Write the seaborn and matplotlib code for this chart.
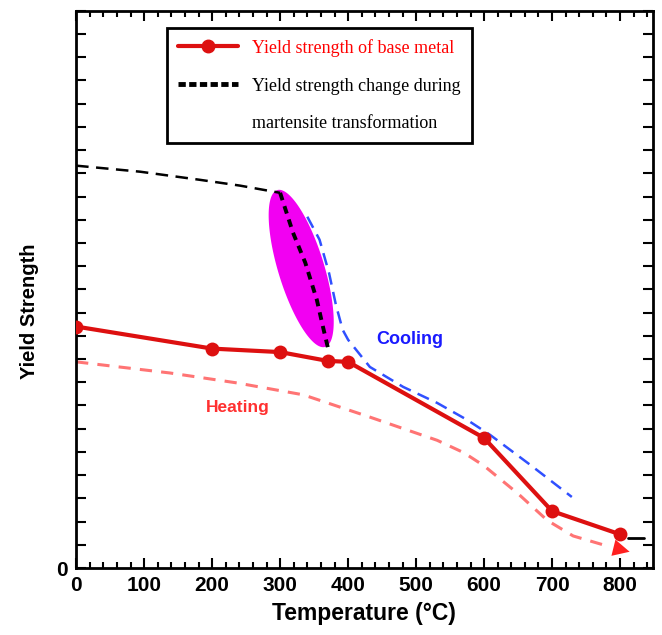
import numpy as np
import matplotlib
matplotlib.use('Agg')
import matplotlib.pyplot as plt
import seaborn as sns
from matplotlib.lines import Line2D
from matplotlib.ticker import MultipleLocator, FuncFormatter

# yield strength of base metal (arbitrary units, one unit per y tick)
temp_base = [0, 200, 300, 370, 400, 600, 700, 800]
ys_base = [10.4, 9.45, 9.3, 8.92, 8.88, 5.6, 2.45, 1.45]

# martensite transformation path (black dashed)
temp_mart_flat = [0, 94, 182, 241, 300]
ys_mart_flat = [17.33, 17.07, 16.72, 16.47, 16.16]
temp_mart_drop = [300, 319, 337, 354, 363, 371]
ys_mart_drop = [16.16, 14.44, 13.15, 11.55, 10.39, 9.4]
temp_mart_end = [812, 835]
ys_mart_end = [1.3, 1.3]

# cooling curve (blue dashed)
temp_cool = [340, 358, 372, 382, 392, 400, 432, 481, 531, 575, 609, 668, 729]
ys_cool = [15.13, 14.14, 12.7, 11.34, 10.26, 9.83, 8.66, 7.8, 7.11, 6.38, 5.73, 4.44, 3.06]

# heating curve (light red dashed)
temp_heat = [0, 138, 237, 334, 432, 531, 570, 600, 650, 693, 731, 775]
ys_heat = [8.88, 8.4, 7.97, 7.46, 6.5, 5.5, 4.97, 4.4, 3.2, 2.05, 1.38, 1.0]

# highlighted zone around the transformation
zone_center = (331, 12.9)   # data coords
zone_semi_axes = (82, 23)   # pixels
zone_tilt = 17              # degrees from vertical

RED = '#dd1010'
HEAT = '#ff5c5c'
BLUE = '#3050ff'
MAGENTA = '#f200f2'

sns.set_style('ticks')
plt.rcParams['font.family'] = ['Liberation Sans', 'DejaVu Sans']

fig, ax = plt.subplots(figsize=(6.62, 6.35), dpi=100)
fig.subplots_adjust(left=0.115, right=0.986, bottom=0.1055, top=0.983)
ax.set_xlim(0, 848)
ax.set_ylim(0, 24)

# magenta zone, built in display space then mapped back to data
fig.canvas.draw()
cx, cy = ax.transData.transform(zone_center)
phi = np.linspace(0, 2 * np.pi, 200)
a, b = zone_semi_axes
th = np.deg2rad(zone_tilt)
px = cx + (-a * np.cos(phi)) * np.sin(th) + b * np.sin(phi) * np.cos(th)
py = cy + a * np.cos(phi) * np.cos(th) + b * np.sin(phi) * np.sin(th)
pts = ax.transData.inverted().transform(np.column_stack([px, py]))
ax.fill(pts[:, 0], pts[:, 1], color=MAGENTA, lw=0, zorder=1)

sns.lineplot(x=temp_heat, y=ys_heat, ax=ax, color=HEAT, lw=2.2, sort=False,
             linestyle=(0, (4, 3)), alpha=0.85, zorder=2)
ax.annotate('', xy=(814, 0.7), xytext=(770, 1.02),
            arrowprops=dict(arrowstyle='-|>,head_length=1.2,head_width=0.6',
                            color='#ff2020', lw=0, shrinkA=0, shrinkB=0))

sns.lineplot(x=temp_cool, y=ys_cool, ax=ax, color=BLUE, lw=1.8, sort=False,
             linestyle=(0, (5, 3)), zorder=2)

sns.lineplot(x=temp_mart_flat, y=ys_mart_flat, ax=ax, color='black', lw=1.8,
             sort=False, linestyle=(0, (5, 3)), zorder=3)
sns.lineplot(x=temp_mart_drop, y=ys_mart_drop, ax=ax, color='black', lw=2.8,
             sort=False, linestyle=(0, (2, 1.6)), zorder=3)
sns.lineplot(x=temp_mart_end, y=ys_mart_end, ax=ax, color='black', lw=2,
             sort=False, zorder=3)

sns.lineplot(x=temp_base, y=ys_base, ax=ax, color=RED, lw=3, marker='o',
             markersize=10, markeredgewidth=0, sort=False, zorder=4)

ax.text(491, 9.83, 'Cooling', color='#1a1aff', fontsize=13, fontweight='bold',
        ha='center', va='center')
ax.text(238, 6.9, 'Heating', color='#ff3030', fontsize=12.5, fontweight='bold',
        ha='center', va='center')

# axes and ticks
for side in ['top', 'right', 'left', 'bottom']:
    ax.spines[side].set_visible(True)
    ax.spines[side].set_linewidth(2)
    ax.spines[side].set_color('black')
ax.xaxis.set_major_locator(MultipleLocator(100))
ax.xaxis.set_minor_locator(MultipleLocator(20))
ax.yaxis.set_major_locator(MultipleLocator(1))
ax.yaxis.set_major_formatter(FuncFormatter(lambda v, p: '0' if v == 0 else ''))
ax.tick_params(which='both', direction='in', top=True, right=True, width=1.5,
               color='black', labelcolor='black')
ax.tick_params(which='major', length=7, labelsize=15, pad=6)
ax.tick_params(which='minor', length=4)
for lab in ax.get_xticklabels() + ax.get_yticklabels():
    lab.set_fontweight('bold')
ax.set_xlabel('Temperature (°C)', fontsize=16.5, fontweight='bold', labelpad=5,
              color='black')
ax.set_ylabel('Yield Strength', fontsize=14.5, fontweight='bold', color='black')
ax.yaxis.set_label_coords(-0.064, 0.46)

# legend
handles = [
    Line2D([], [], color=RED, lw=3, marker='o', markersize=9),
    Line2D([], [], color='black', lw=3.5, linestyle=(0, (1.5, 0.7))),
    Line2D([], [], color='none'),
]
labels = ['Yield strength of base metal', 'Yield strength change during',
          'martensite transformation']
leg = ax.legend(handles, labels, loc='upper left', bbox_to_anchor=(0.158, 0.969),
                frameon=True, fancybox=False, handlelength=3.3, handletextpad=0.8,
                labelspacing=1.15, borderpad=0.6, borderaxespad=0,
                prop={'family': 'Liberation Serif', 'size': 13})
leg.get_frame().set_edgecolor('black')
leg.get_frame().set_linewidth(2)
leg.get_frame().set_alpha(1)
leg.get_texts()[0].set_color('#ff0000')
for t in leg.get_texts()[1:]:
    t.set_color('black')

fig.savefig('out.png', dpi=100)
